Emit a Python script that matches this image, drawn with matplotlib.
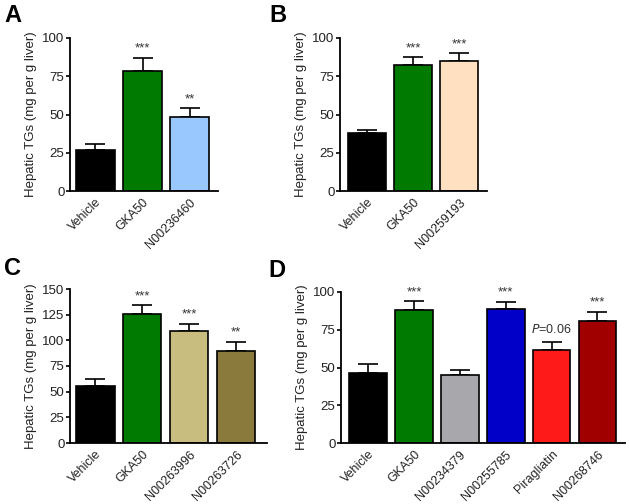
import numpy as np
import matplotlib
matplotlib.use("Agg")
import matplotlib.pyplot as plt

plt.rcParams['font.family'] = ['Liberation Sans', 'DejaVu Sans']

# panel A
a_labels = ['Vehicle', 'GKA50', 'N00236460']
a_means = [27, 78.5, 48.5]
a_sem = [3.5, 8.5, 5.5]
a_sig = ['', '***', '**']
a_colors = ['#000000', '#007a00', '#99c8ff']

# panel B
b_labels = ['Vehicle', 'GKA50', 'N00259193']
b_means = [38, 82.5, 85]
b_sem = [2, 5, 5]
b_sig = ['', '***', '***']
b_colors = ['#000000', '#007a00', '#ffe0c0']

# panel C
c_labels = ['Vehicle', 'GKA50', 'N00263996', 'N00263726']
c_means = [56, 126, 109, 90]
c_sem = [6, 8, 7, 8.5]
c_sig = ['', '***', '***', '**']
c_colors = ['#000000', '#007a00', '#c8bc7e', '#8a7a3c']

# panel D
d_labels = ['Vehicle', 'GKA50', 'N00234379', 'N00255785', 'Piragliatin', 'N00268746']
d_means = [46.5, 88, 45, 88.5, 61.5, 80.5]
d_sem = [5.5, 6, 3.5, 5, 5.5, 6.5]
d_sig = ['', '***', '', '***', '$\\it{P}$=0.06', '***']
d_colors = ['#000000', '#007a00', '#a8a8ac', '#0000c8', '#ff1a1a', '#a00000']

W, H = 629, 504
fig = plt.figure(figsize=(W / 100, H / 100), dpi=100)


def panel(px_left, px_right, px_top, px_bottom, xlim, ymax, yticks,
          labels, means, sem, sig, colors, letter, letter_xy):
    ax = fig.add_axes([px_left / W, 1 - px_bottom / H,
                       (px_right - px_left) / W, (px_bottom - px_top) / H])
    x = np.arange(len(labels))
    ax.bar(x, means, width=0.82, color=colors, edgecolor='black',
           linewidth=1.2, zorder=2)
    ax.errorbar(x, means, yerr=[np.zeros(len(sem)), sem], fmt='none',
                ecolor='black', elinewidth=1.2, capsize=7, capthick=1.2,
                zorder=1)
    for xi, m, s, t in zip(x, means, sem, sig):
        if t:
            if t.startswith('$'):
                ax.text(xi, m + s + ymax * 0.04, t, ha='center', va='bottom',
                        fontsize=9, color='#333333')
            else:
                ax.text(xi, m + s + ymax * 0.02, t, ha='center', va='bottom',
                        fontsize=9.5, color='#333333')
    ax.set_xlim(*xlim)
    ax.set_ylim(0, ymax)
    ax.set_yticks(yticks)
    ax.set_xticks(x)
    ax.set_xticklabels(labels, rotation=45, ha='right', rotation_mode='anchor',
                       fontsize=9, color='#222222')
    ax.tick_params(axis='y', labelsize=9.5, labelcolor='#222222', length=3,
                   width=1.2, pad=1)
    ax.tick_params(axis='x', length=0, pad=4)
    for sp in ['top', 'right']:
        ax.spines[sp].set_visible(False)
    for sp in ['left', 'bottom']:
        ax.spines[sp].set_linewidth(1.3)
    ax.set_ylabel('Hepatic TGs (mg per g liver)', fontsize=9.5,
                  color='#222222', labelpad=4)
    fig.text(letter_xy[0] / W, 1 - letter_xy[1] / H, letter, fontsize=17,
             fontweight='bold', ha='left', va='top')
    return ax


panel(70, 218, 38, 191, (-0.54, 2.6), 100, [0, 25, 50, 75, 100],
      a_labels, a_means, a_sem, a_sig, a_colors, 'A', (4, 4))
panel(340, 487, 38, 191, (-0.59, 2.61), 100, [0, 25, 50, 75, 100],
      b_labels, b_means, b_sem, b_sig, b_colors, 'B', (269, 4))
panel(70, 267, 289, 443, (-0.54, 3.66), 150, [0, 25, 50, 75, 100, 125, 150],
      c_labels, c_means, c_sem, c_sig, c_colors, 'C', (4, 257))
panel(341, 625, 292, 443, (-0.59, 5.6), 100, [0, 25, 50, 75, 100],
      d_labels, d_means, d_sem, d_sig, d_colors, 'D', (268, 259))

fig.savefig('out.png', dpi=100, facecolor='white')
